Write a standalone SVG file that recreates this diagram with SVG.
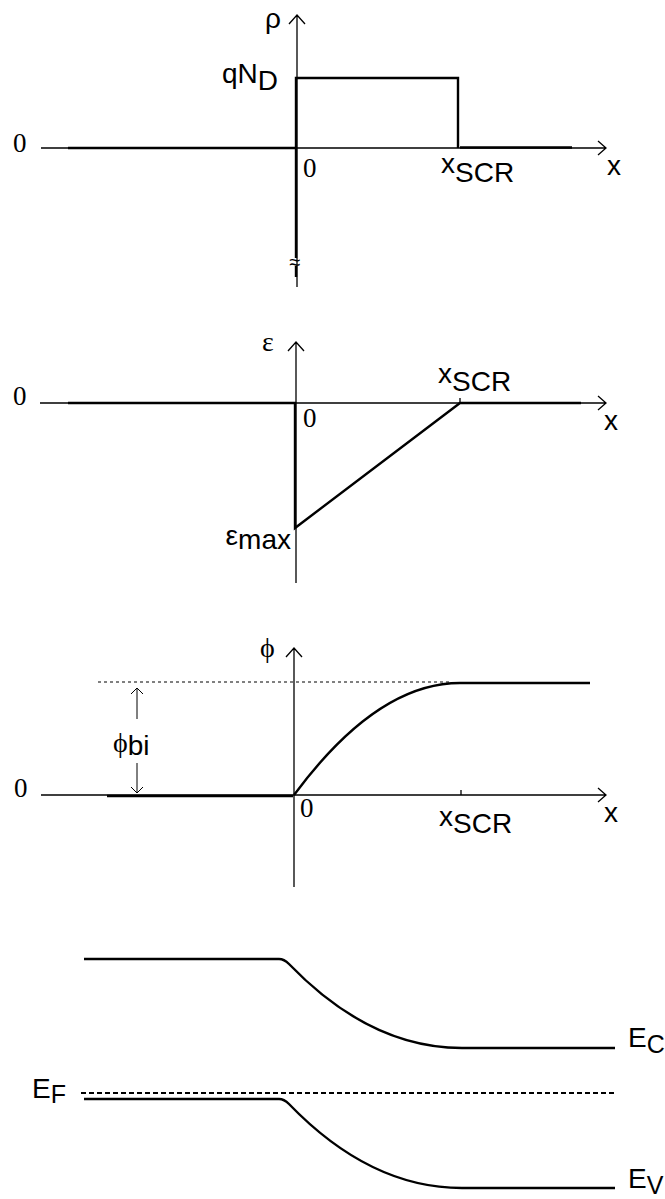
<svg xmlns="http://www.w3.org/2000/svg" width="665" height="1199" viewBox="0 0 665 1199">
<style>
.ax{fill:none;stroke:#000;stroke-width:1.3}
.dt{fill:none;stroke:#000;stroke-width:2.4}
.thin{fill:none;stroke:#000;stroke-width:1}
.dash{fill:none;stroke:#000;stroke-width:1;stroke-dasharray:3,3}
.ef{fill:none;stroke:#000;stroke-width:2;stroke-dasharray:5,3}
.s{font-family:"Liberation Sans",Arial,sans-serif;font-size:28px;fill:#000}
.r{font-family:"Liberation Serif","Times New Roman",serif;font-size:27px;fill:#000}
.sub{font-size:25px}
</style>
<rect width="665" height="1199" fill="#fff"/>

<g id="panel-rho">
<path class="ax" d="M41,148 H606 M598,141 L606,148 L598,155 M297,287 V15 M289,24 L297,15 L305,24"/>
<path class="dt" d="M68,148 H296 M296,258 V78 H458 V148 M460,147.5 H572 M296,266 V277"/>
<text class="s" x="295" y="269" text-anchor="middle" style="font-size:20px">≈</text>
<text class="s" x="265" y="28">ρ</text>
<text class="s" x="222" y="83">qN<tspan dy="7">D</tspan></text>
<text class="r" x="13" y="152">0</text>
<text class="r" x="303" y="177">0</text>
<text class="s" x="441" y="173">x<tspan dy="9">SCR</tspan></text>
<text class="s" x="607" y="175">x</text>
</g>

<g id="panel-field">
<path class="ax" d="M40,403 H606 M598,396 L606,403 L598,410 M296,583 V342 M288,351 L296,342 L304,351 M460,398 V403"/>
<path class="dt" d="M68,403 H295 V528 L460,403 H581"/>
<text class="r" x="262" y="351" style="font-size:28px">ε</text>
<text class="r" x="13" y="405">0</text>
<text class="r" x="303" y="427">0</text>
<text class="s" x="438" y="383">x<tspan dy="8">SCR</tspan></text>
<text class="s" x="604" y="430">x</text>
<text class="s" x="291" y="549" text-anchor="end"><tspan dy="-4">ε</tspan><tspan dy="4">max</tspan></text>
</g>

<g id="panel-potential">
<path class="ax" d="M41,795 H606 M598,788 L606,795 L598,802 M294,887 V648 M286,657 L294,648 L302,657 M461,790 V795"/>
<path class="dash" d="M98,682 H450"/>
<path class="dt" d="M107,796 H293 M294,795 Q377,683 460,683 H590"/>
<path class="thin" d="M137,688 V719 M137,763 V793 M131,694 L137,688 L143,694 M131,787 L137,793 L143,787"/>
<text class="r" x="260" y="657" style="font-size:28px">ϕ</text>
<text class="s" x="113" y="755"><tspan dy="-3" style="font-family:'Liberation Serif',serif">ϕ</tspan><tspan dy="3">bi</tspan></text>
<text class="r" x="14" y="797">0</text>
<text class="r" x="300" y="817">0</text>
<text class="s" x="439" y="826">x<tspan dy="7">SCR</tspan></text>
<text class="s" x="604" y="822">x</text>
</g>

<g id="panel-bands">
<path class="dt" d="M84,959 H279 Q284,959 289,964 Q370,1048 462,1048 H615"/>
<path class="dt" d="M84,1099 H279 Q284,1099 289,1104 Q370,1188 462,1188 H615"/>
<path class="ef" d="M81,1093 H615"/>
<text class="s" x="628" y="1047">E<tspan class="sub" dy="6">C</tspan></text>
<text class="s" x="628" y="1188">E<tspan class="sub" dy="6">V</tspan></text>
<text class="s" x="32" y="1098">E<tspan class="sub" dy="5">F</tspan></text>
</g>
</svg>
